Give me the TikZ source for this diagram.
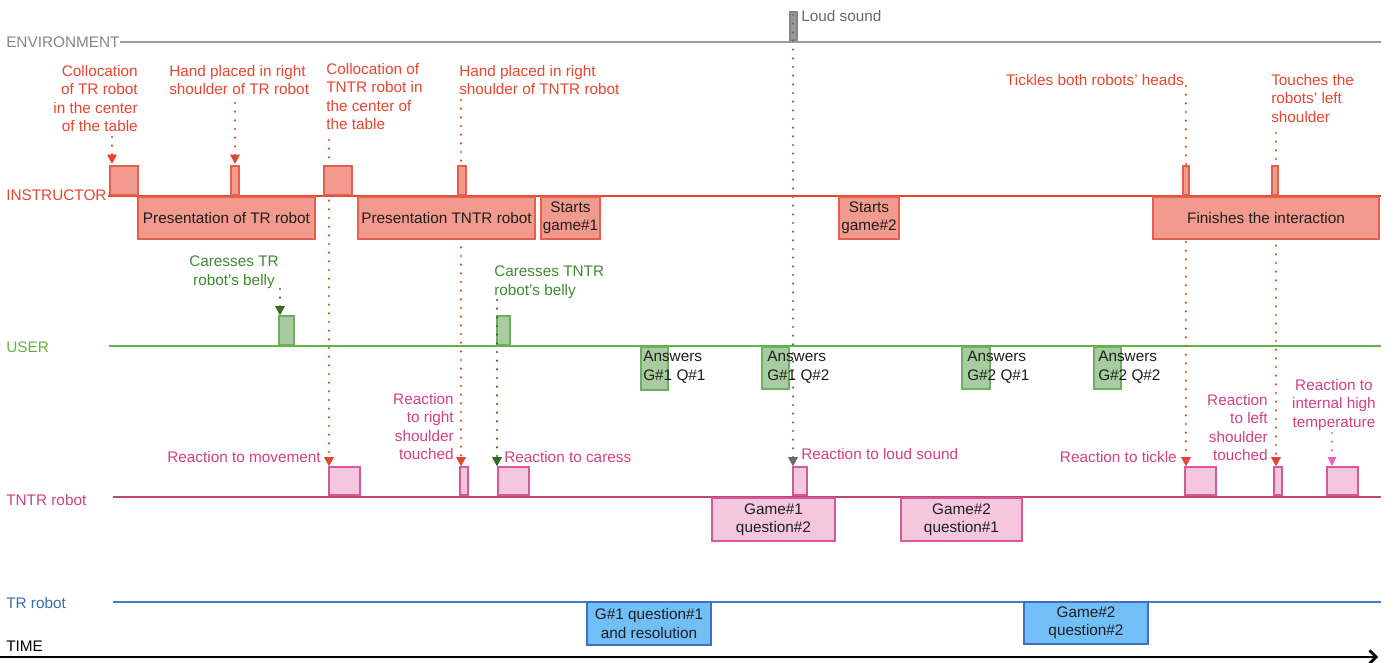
\documentclass[tikz,border=0pt]{standalone}
\usepackage{fontspec}
\setmainfont{Liberation Sans}
\usetikzlibrary{arrows.meta,fit}
\definecolor{envc}{HTML}{9A9A9A}
\definecolor{envt}{HTML}{858585}
\definecolor{insL}{HTML}{E2462F}
\definecolor{insT}{HTML}{E8452F}
\definecolor{insF}{HTML}{F29A8D}
\definecolor{insD}{HTML}{E2604D}
\definecolor{usrL}{HTML}{5DB53F}
\definecolor{usrT}{HTML}{3D8B2E}
\definecolor{usrF}{HTML}{A8CCA0}
\definecolor{usrD}{HTML}{6FAE62}
\definecolor{usrA}{HTML}{2E6E1E}
\definecolor{tntL}{HTML}{C7407E}
\definecolor{tntT}{HTML}{D3407E}
\definecolor{tntF}{HTML}{F4C7DE}
\definecolor{tntD}{HTML}{D45A95}
\definecolor{tntA}{HTML}{F060C0}
\definecolor{trL}{HTML}{3D7EC9}
\definecolor{trT}{HTML}{3B6EA5}
\definecolor{trF}{HTML}{72BEF7}
\definecolor{trD}{HTML}{3F6EC3}
\definecolor{txt}{HTML}{1E1E1E}
\begin{document}
\begin{tikzpicture}[x=0.75pt,y=-0.75pt,
  every node/.style={font=\fontsize{11.5pt}{13.8pt}\selectfont, inner sep=0pt},
  lane/.style={line width=1.8pt},
  ibox/.style={draw=insD, fill=insF, line width=0.8pt},
  gbox/.style={draw=usrD, fill=usrF, line width=0.8pt},
  pbox/.style={draw=tntD, fill=tntF, line width=0.8pt},
  tbox/.style={draw=trD, fill=trF, line width=0.8pt},
  boxtext/.style={align=center, text=txt},
  dotline/.style={line width=1.8pt, dash pattern=on 0pt off 6.5pt, line cap=round},
  tip/.style={-{Triangle[width=7pt,length=7pt]}},
  stip/.style={-{Triangle[width=6pt,length=7pt]}}
]
\useasboundingbox (0,0) rectangle (1396,663);

% lane labels
\node[anchor=west, text=envt] (lenv) at (6,42) {ENVIRONMENT};
\node[anchor=west, text=insT] (lins) at (6,195) {INSTRUCTOR};
\node[anchor=west, text=usrL] (lusr) at (6,347) {USER};
\node[anchor=west, text=tntT] (ltnt) at (6,500) {TNTR robot};
\node[anchor=west, text=trT] (ltr) at (6,603) {TR robot};
\node[anchor=west, text=black] (ltime) at (6,646) {TIME};

% lanes
\coordinate (envE) at (1381,42);
\coordinate (insS) at (108,196); \coordinate (insE) at (1381,196);
\coordinate (usrS) at (109,346); \coordinate (usrE) at (1381,346);
\coordinate (tntS) at (113,497); \coordinate (tntE) at (1381,497);
\coordinate (trS) at (113,602);  \coordinate (trE) at (1381,602);
\coordinate (timeS) at (0,657);  \coordinate (timeE) at (1378,657);
\draw[lane, envc] (lenv.east) -- (envE);
\draw[lane, insL, line width=2pt] (insS) -- (insE);
\draw[lane, usrL] (usrS) -- (usrE);
\draw[lane, tntL] (tntS) -- (tntE);
\draw[lane, trL] (trS) -- (trE);
\draw[line width=2pt, -{Straight Barb[length=5pt,width=10pt]}] (timeS) -- (timeE);

% TNTR / TR boxes
\node[pbox, fit={(329,467) (360,495)}] (p1) {};
\node[pbox, fit={(460,467) (468,495)}] (p2) {};
\node[pbox, fit={(498,467) (529,495)}] (p3) {};
\node[pbox, fit={(793,467) (807,495)}] (p4) {};
\node[pbox, fit={(1185,467) (1216,495)}] (p5) {};
\node[pbox, fit={(1274,467) (1282,495)}] (p6) {};
\node[pbox, fit={(1327,467) (1358,495)}] (p7) {};
\node[pbox, fit={(712,498) (835,541)}] (pg1) {};
\node[pbox, fit={(901,498) (1022,541)}] (pg2) {};
\node[tbox, fit={(587,602) (711,645)}] (tb1) {};
\node[tbox, fit={(1024,602) (1148,644)}] (tb2) {};
\node[boxtext] (pg1t) at (pg1.center) {Game\#1\\question\#2};
\node[boxtext] (pg2t) at (pg2.center) {Game\#2\\question\#1};
\node[boxtext] (tb1t) at (tb1.center) {G\#1 question\#1\\and resolution};
\node[boxtext] (tb2t) at (tb2.center) {Game\#2\\question\#2};

% user box (connector end)
\node[gbox, fit={(279,316) (294,345)}] (g1) {};

% dotted connectors
\coordinate (s1) at (112,137);
\coordinate (s2) at (235,103);
\coordinate (s3) at (329,140);
\coordinate (s4) at (461,100);
\coordinate (s5) at (1186,86);
\coordinate (s6) at (1276,133);
\coordinate (s7) at (280,289);
\coordinate (s8) at (497,300);
\coordinate (s9) at (1332,433);
\coordinate (e1) at (112,164);
\coordinate (e2) at (235,164);
\draw[dotline, tip, insL] (s1) -- (e1);
\draw[dotline, tip, insL] (s2) -- (e2);
\draw[dotline, tip, insL] (s3) -- (s3 |- p1.north);
\draw[dotline, tip, insL] (s4) -- (s4 |- p2.north);
\draw[dotline, tip, insL] (s5) -- (s5 |- p5.north);
\draw[dotline, tip, insL] (s6) -- (s6 |- p6.north);
\draw[dotline, tip, usrA] (s7) -- (s7 |- g1.north);
\draw[dotline, stip, tntA] (s9) -- (s9 |- p7.north);

% instructor boxes
\node[ibox, fit={(110,166) (138,195)}] (b1) {};
\node[ibox, fit={(231,166) (239,195)}] (b2) {};
\node[ibox, fit={(324,166) (352,195)}] (b3) {};
\node[ibox, fit={(458,166) (466,195)}] (b4) {};
\node[ibox, fit={(1183,166) (1189,195)}] (b5) {};
\node[ibox, fit={(1272,166) (1278,195)}] (b6) {};
\node[ibox, fit={(138,197) (315,239)}] (bp1) {};
\node[ibox, fit={(358,197) (535,239)}] (bp2) {};
\node[ibox, fit={(541,197) (600,239)}] (bs1) {};
\node[ibox, fit={(839,197) (899,239)}] (bs2) {};
\node[ibox, fit={(1153,197) (1379,239)}] (bf) {};
\node[boxtext] (bp1t) at (bp1.center) {Presentation of TR robot};
\node[boxtext] (bp2t) at (bp2.center) {Presentation TNTR robot};
\node[boxtext] (bs1t) at (bs1.center) {Starts\\game\#1};
\node[boxtext] (bs2t) at (bs2.center) {Starts\\game\#2};
\node[boxtext] (bft) at (bf.center) {Finishes the interaction};

% user boxes
\node[gbox, fit={(497,316) (510,345)}] (g2) {};
\node[gbox, fit={(641,347) (668,390)}] (ga1) {};
\node[gbox, fit={(762,347) (789,389)}] (ga2) {};
\node[gbox, fit={(962,347) (990,389)}] (ga3) {};
\node[gbox, fit={(1094,347) (1121,389)}] (ga4) {};
\draw[dotline, tip, usrA] (s8) -- (s8 |- p3.north);

% loud sound
\node[draw=envt, fill=envc, line width=0.8pt, fit={(790,12) (797,40)}] (loud) {};
\coordinate (s0) at (793,15);
\draw[dotline, tip, envt!80!black] (s0) -- (s0 |- p4.north);
\node[anchor=west, text=envt!80!black] (tloud) at (801,16) {Loud sound};

% instructor labels
\node[anchor=north east, align=right, text=insT] (t1) at (138,65) {Collocation\\of TR robot\\in the center\\of the table};
\node[anchor=north west, align=left, text=insT] (t2) at (169,65) {Hand placed in right\\shoulder of TR robot};
\node[anchor=north west, align=left, text=insT] (t3) at (326,63) {Collocation of\\TNTR robot in\\the center of\\the table};
\node[anchor=north west, align=left, text=insT] (t4) at (459,65) {Hand placed in right\\shoulder of TNTR robot};
\node[anchor=north east, align=right, text=insT] (t5) at (1184,74) {Tickles both robots’ heads};
\node[anchor=north west, align=left, text=insT] (t6) at (1271,74) {Touches the\\robots’ left\\shoulder};

% user labels
\node[anchor=north, align=center, text=usrT] (t7) at (234,256) {Caresses TR\\robot’s belly};
\node[anchor=north west, align=left, text=usrT] (t8) at (494,266) {Caresses TNTR\\robot’s belly};
\node[anchor=north west, align=left, text=txt] (ta1) at (643,351) {Answers\\G\#1 Q\#1};
\node[anchor=north west, align=left, text=txt] (ta2) at (767,351) {Answers\\G\#1 Q\#2};
\node[anchor=north west, align=left, text=txt] (ta3) at (967,351) {Answers\\G\#2 Q\#1};
\node[anchor=north west, align=left, text=txt] (ta4) at (1098,351) {Answers\\G\#2 Q\#2};

% TNTR labels
\node[anchor=east, text=tntT] (r1) at (321,457) {Reaction to movement};
\node[anchor=north east, align=right, text=tntT] (r2) at (454,393) {Reaction\\to right\\shoulder\\touched};
\node[anchor=west, text=tntT] (r3) at (504,457) {Reaction to caress};
\node[anchor=west, text=tntT] (r4) at (801,454) {Reaction to loud sound};
\node[anchor=east, text=tntT] (r5) at (1177,457) {Reaction to tickle};
\node[anchor=north east, align=right, text=tntT] (r6) at (1268,394) {Reaction\\to left\\shoulder\\touched};
\node[anchor=north, align=center, text=tntT] (r7) at (1334,379) {Reaction to\\internal high\\temperature};
\end{tikzpicture}
\end{document}
